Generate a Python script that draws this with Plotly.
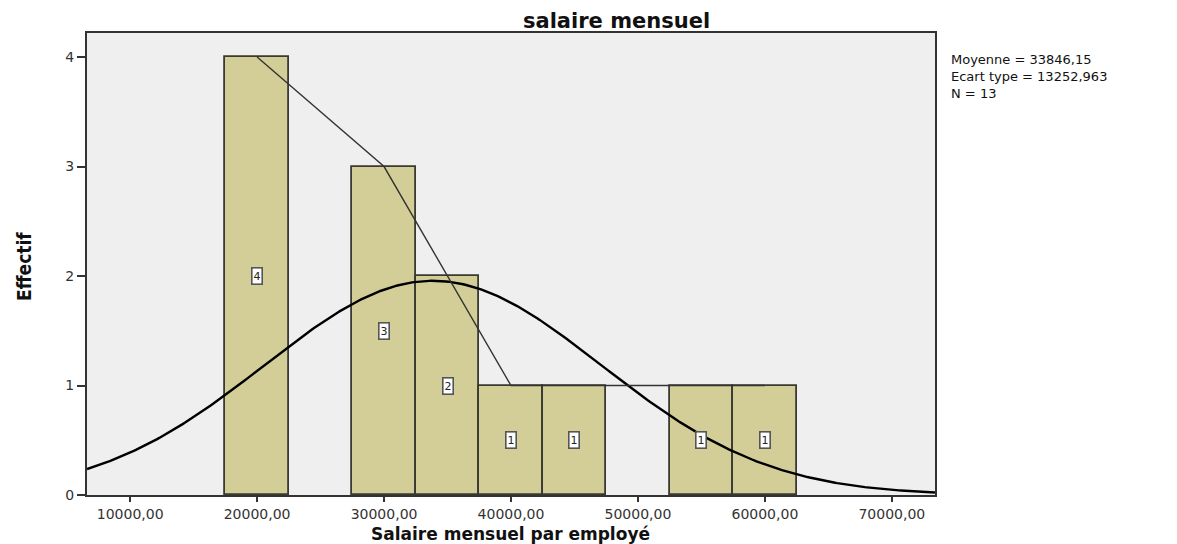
import numpy as np
import plotly.graph_objects as go

# Histogram data
bin_centers = [20000, 30000, 35000, 40000, 45000, 55000, 60000]
counts = [4, 3, 2, 1, 1, 1, 1]
bin_width = 5000

# Frequency line drawn over the bars
line_x = [20000, 30000, 40000, 60000]
line_y = [4, 3, 1, 1]

# Summary statistics (shown at right; normal curve derived from them)
mean = 33846.15
sd = 13252.963
n = 13
stats_lines = ["Moyenne = 33846,15", "Ecart type = 13252,963", "N = 13"]

x_tickvals = [10000, 20000, 30000, 40000, 50000, 60000, 70000]
x_ticktext = ["10000,00", "20000,00", "30000,00", "40000,00", "50000,00", "60000,00", "70000,00"]
y_tickvals = [0, 1, 2, 3, 4]

x_range = [6600, 73400]
y_range = [0, 4.22]

W, H = 1177, 544
ML, MR, MT, MB = 79, 250, 25, 57
PW, PH = W - ML - MR, H - MT - MB


def px(xf):
    return (xf - ML) / PW


def py(yf):
    return 1 - (yf - MT) / PH


fig = go.Figure()

fig.add_trace(go.Bar(
    x=bin_centers, y=counts, width=bin_width,
    marker=dict(color="#D3CE97", line=dict(color="#3a3a32", width=1.8)),
    showlegend=False, hoverinfo="skip",
))

# Normal curve from the displayed mean / standard deviation
xs = np.linspace(x_range[0], x_range[1], 400)
ys = n * bin_width / (sd * np.sqrt(2 * np.pi)) * np.exp(-0.5 * ((xs - mean) / sd) ** 2)
fig.add_trace(go.Scatter(x=xs, y=ys, mode="lines",
                         line=dict(color="#000000", width=2.4),
                         showlegend=False, hoverinfo="skip"))

fig.add_trace(go.Scatter(x=line_x, y=line_y, mode="lines",
                         line=dict(color="#333333", width=1.4),
                         showlegend=False, hoverinfo="skip"))

# Count labels in boxes
for xc, c in zip(bin_centers, counts):
    fig.add_annotation(x=xc, y=c / 2, text=str(c), showarrow=False,
                       font=dict(family="DejaVu Sans", size=11, color="#222"),
                       bgcolor="white", bordercolor="#555", borderwidth=1.6, borderpad=1)

# Statistics block
fig.add_annotation(xref="paper", yref="paper", x=px(941), y=py(42),
                   xanchor="left", yanchor="top", align="left",
                   text="<br>".join(stats_lines), showarrow=False,
                   font=dict(family="DejaVu Sans", size=13, color="#111"))

# Title
fig.add_annotation(xref="paper", yref="paper", x=px(608), y=py(13), xanchor="center",
                   yanchor="middle", text="<b>salaire mensuel</b>", showarrow=False,
                   font=dict(family="DejaVu Sans", size=21, color="#111"))

# Axis titles
fig.add_annotation(xref="paper", yref="paper", x=px(502), y=py(526), xanchor="center",
                   yanchor="middle", text="<b>Salaire mensuel par employé</b>", showarrow=False,
                   font=dict(family="DejaVu Sans", size=17, color="#111"))
fig.add_annotation(xref="paper", yref="paper", x=px(16), y=py(259), xanchor="center",
                   yanchor="middle", text="<b>Effectif</b>", textangle=-90, showarrow=False,
                   font=dict(family="Liberation Sans Narrow, DejaVu Sans Condensed, Arial Narrow",
                             size=19, color="#111"))

fig.update_layout(
    width=W, height=H,
    margin=dict(l=ML, r=MR, t=MT, b=MB),
    paper_bgcolor="white", plot_bgcolor="#EFEFEF",
    bargap=0,
    font=dict(family="DejaVu Sans", color="#222"),
)

fig.update_xaxes(range=x_range, tickvals=x_tickvals, ticktext=x_ticktext,
                 showgrid=False, zeroline=False, showline=True, mirror=True,
                 linecolor="#333", linewidth=2, ticks="outside", ticklen=5, tickwidth=2,
                 tickcolor="#333", tickfont=dict(family="DejaVu Sans", size=14, color="#333"))
fig.update_yaxes(range=y_range, tickvals=y_tickvals,
                 showgrid=False, zeroline=False, showline=True, mirror=True,
                 linecolor="#333", linewidth=2, ticks="outside", ticklen=8, tickwidth=2,
                 tickcolor="#333", tickfont=dict(family="DejaVu Sans", size=14, color="#333"))

fig.write_html("out.html")
